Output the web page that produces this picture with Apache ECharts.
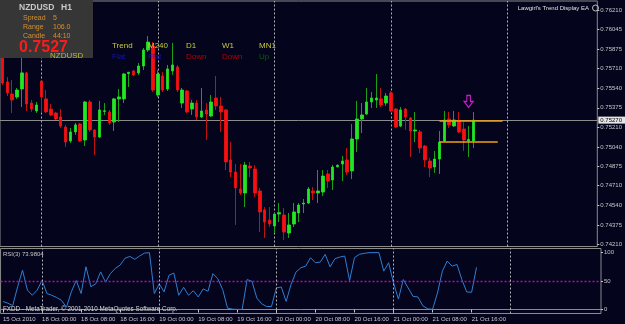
<!DOCTYPE html>
<html><head><meta charset="utf-8">
<script src="https://cdn.jsdelivr.net/npm/echarts@6/dist/echarts.min.js"></script>
<style>html,body{margin:0;padding:0;background:#04041c;}#c{width:625px;height:324px;}</style>
</head><body><div id="c"></div>
<script>
// ---- data (NZDUSD H1) ----
const opens  = [0.75801,0.75596,0.75493,0.75468,0.75536,0.75673,0.75416,0.75348,0.75604,0.75451,
0.75365,0.75331,0.75297,0.75211,0.75092,0.75169,0.75237,0.75100,0.75425,0.75186,
0.75126,0.75344,0.75340,0.75254,0.75451,0.75451,0.75668,0.75690,0.75673,0.75732,
0.75869,0.75903,0.75485,0.75647,0.75536,0.75690,0.75724,0.75416,0.75519,0.75365,
0.75416,0.75297,0.75357,0.75305,0.75459,0.75391,0.75357,0.74930,0.74827,0.74682,
0.74648,0.74878,0.74853,0.74665,0.74503,0.74417,0.74366,0.74468,0.74460,0.74306,
0.74383,0.74477,0.74554,0.74562,0.74665,0.74648,0.74656,0.74810,0.74759,0.74872,
0.74895,0.74930,0.74836,0.75109,0.75280,0.75322,0.75425,0.75442,0.75451,0.75416,
0.75502,0.75365,0.75220,0.75365,0.75288,0.75177,0.75169,0.75049,0.74921,0.74870,
0.74938,0.75092,0.75280,0.75220,0.75263,0.75194,0.75092,0.75092];
const highs  = [0.75826,0.75638,0.75613,0.75545,0.75801,0.75681,0.75442,0.75425,0.75613,0.75527,
0.75408,0.75340,0.75365,0.75229,0.75203,0.75246,0.75246,0.75434,0.75442,0.75194,
0.75434,0.75416,0.75357,0.75459,0.75536,0.75673,0.75681,0.75698,0.75758,0.75886,
0.75989,0.75937,0.75698,0.75681,0.75741,0.75929,0.75741,0.75545,0.75527,0.75442,
0.75442,0.75545,0.75416,0.75485,0.75647,0.75468,0.75365,0.75083,0.74895,0.74895,
0.74913,0.74913,0.74887,0.74691,0.74528,0.74528,0.74477,0.74562,0.74520,0.74477,
0.74562,0.74562,0.74597,0.74699,0.74699,0.74844,0.74844,0.74844,0.74887,0.74891,
0.74964,0.75032,0.75237,0.75434,0.75416,0.75545,0.75510,0.75664,0.75545,0.75502,
0.75519,0.75374,0.75382,0.75374,0.75297,0.75340,0.75186,0.75058,0.74947,0.75007,
0.75177,0.75348,0.75340,0.75348,0.75340,0.75254,0.75220,0.75340];
const lows   = [0.75570,0.75476,0.75331,0.75451,0.75382,0.75348,0.75340,0.75331,0.75340,0.75331,
0.75305,0.75271,0.75203,0.75041,0.75075,0.75143,0.75083,0.75049,0.75169,0.74972,
0.75118,0.75314,0.75229,0.75177,0.75254,0.75416,0.75553,0.75647,0.75656,0.75698,
0.75852,0.75510,0.75468,0.75510,0.75519,0.75656,0.75510,0.75374,0.75331,0.75314,
0.75271,0.75288,0.75100,0.75297,0.75357,0.75169,0.74844,0.74784,0.74375,0.74631,
0.74528,0.74784,0.74614,0.74315,0.74264,0.74357,0.74306,0.74400,0.74246,0.74264,
0.74357,0.74400,0.74477,0.74554,0.74588,0.74562,0.74622,0.74691,0.74673,0.74866,
0.74750,0.74802,0.74767,0.74998,0.75160,0.75314,0.75374,0.75374,0.75382,0.75391,
0.75340,0.75203,0.75211,0.75186,0.74955,0.75083,0.74989,0.74870,0.74784,0.74819,
0.74810,0.75083,0.75203,0.75211,0.75160,0.75007,0.74955,0.75032];
const closes = [0.75587,0.75502,0.75442,0.75527,0.75673,0.75408,0.75365,0.75399,0.75468,0.75340,
0.75314,0.75280,0.75220,0.75083,0.75169,0.75229,0.75092,0.75425,0.75186,0.75126,
0.75357,0.75350,0.75246,0.75451,0.75468,0.75664,0.75679,0.75656,0.75732,0.75869,
0.75937,0.75527,0.75664,0.75527,0.75707,0.75741,0.75527,0.75527,0.75340,0.75416,
0.75297,0.75348,0.75322,0.75425,0.75391,0.75340,0.74913,0.74827,0.74691,0.74648,
0.74887,0.74861,0.74648,0.74486,0.74400,0.74383,0.74468,0.74480,0.74315,0.74375,
0.74486,0.74545,0.74562,0.74682,0.74648,0.74665,0.74793,0.74750,0.74870,0.74885,
0.74921,0.74827,0.75109,0.75280,0.75314,0.75425,0.75459,0.75459,0.75399,0.75476,
0.75348,0.75211,0.75357,0.75297,0.75177,0.75186,0.75032,0.74930,0.74861,0.74938,
0.75083,0.75271,0.75229,0.75271,0.75169,0.75100,0.75105,0.75270];
const rsiValues = [14,11,7,40,69,34,25,34,51,28,
25,21,16,4,31,51,28,75,40,45,
66,48,63,72,78,90,93,88,94,99,
99.6,28,45,31,60,64,25,39,25,33,
22,36,32,63,54,35,2.4,0.6,0.2,0.2,
52.5,49.6,20,10,5.3,5.3,37.8,39.5,14.2,43.7,
65.5,73.2,76.1,90.9,82,83.2,96.8,74.9,89.1,92,
93.8,50.7,90.9,96.8,98.5,99.7,99.8,99.8,67.3,82,
46.6,18.3,52.5,37.8,23,22,6.5,1.2,0.3,28.9,
67.3,85,76.1,79,52.5,30.7,30.3,73.98];
const timeLabels = ['15 Oct 2010','18 Oct 00:00','18 Oct 08:00','18 Oct 16:00','19 Oct 00:00','19 Oct 08:00',
  '19 Oct 16:00','20 Oct 00:00','20 Oct 08:00','20 Oct 16:00','21 Oct 00:00','21 Oct 08:00','21 Oct 16:00'];
const labelEvery = 8;
const priceTicks = [0.76210,0.76045,0.75875,0.75710,0.75540,0.75375,0.75210,0.75040,0.74875,0.74710,0.74540,0.74375,0.74210];
const rsiTicks = [0,50,100];
const daySeparators = [8,32,56,80,104];
const bidPrice = 0.75270;
const rangeHigh = 0.75262, rangeLow = 0.75083;
const rangeFrom = 90, rangeHighTo = 103, rangeLowTo = 102;
const arrowBar = 96, arrowPrice = 0.75429;
const rsiLevel = 50;
const slotCount = 123;

// ---- chart ----
const cats = Array.from({length: slotCount}, (_, i) => String(i));
const BG = '#04041c', FRAME = '#8a8a8a', TXT = '#c8c8c8';
const FONT = '"Liberation Sans", Arial, sans-serif';
const wickData = opens.map((o, i) => [o, closes[i], lows[i], highs[i]]);
const bodyData = opens.map((o, i) => [o, closes[i], Math.min(o, closes[i]), Math.max(o, closes[i])]);
const sepLines = daySeparators.map(i => ({xAxis: cats[i]}));

const chart = echarts.init(document.getElementById('c'), null, {renderer: 'canvas', width: 625, height: 324});
const txt = (text, x, y, fill, font, align) => ({type: 'text', x, y, z: 100,
  style: {text, fill, font, textAlign: align || 'left', verticalAlign: 'middle', textVerticalAlign: 'middle'}});

chart.setOption({
  backgroundColor: BG,
  animation: false,
  grid: [
    {left: 0, top: 1, width: 601, height: 245.5, show: true, borderColor: FRAME, borderWidth: 1, backgroundColor: BG},
    {left: 0, top: 248.5, width: 601, height: 65, show: true, borderColor: FRAME, borderWidth: 1, backgroundColor: BG}
  ],
  xAxis: [
    {type: 'category', gridIndex: 0, data: cats, boundaryGap: true,
     axisLine: {show: false}, axisTick: {show: false}, axisLabel: {show: false}, splitLine: {show: false}},
    {type: 'category', gridIndex: 1, data: cats, boundaryGap: true,
     axisLine: {show: true, lineStyle: {color: FRAME}},
     axisTick: {show: true, alignWithLabel: true, length: 3, lineStyle: {color: TXT},
       interval: (i) => i % labelEvery === 0 && i / labelEvery < timeLabels.length},
     axisLabel: {show: true, color: TXT, fontSize: 6, fontFamily: FONT, margin: 3, align: 'left',
       interval: (i) => i % labelEvery === 0 && i / labelEvery < timeLabels.length,
       formatter: (v, i) => timeLabels[i / labelEvery] || ''},
     splitLine: {show: false}}
  ],
  yAxis: [
    {type: 'value', gridIndex: 0, position: 'right', min: 0.74191, max: 0.76287, scale: true,
     axisLine: {show: false}, splitLine: {show: false},
     axisTick: {show: true, length: 2, customValues: priceTicks, lineStyle: {color: TXT}},
     axisLabel: {show: true, customValues: priceTicks, color: TXT, fontSize: 6, fontFamily: FONT, margin: 3,
       formatter: (v) => v.toFixed(5)}},
    {type: 'value', gridIndex: 1, position: 'right', min: -7, max: 107,
     axisLine: {show: false}, splitLine: {show: false},
     axisTick: {show: true, length: 2, customValues: rsiTicks, lineStyle: {color: TXT}},
     axisLabel: {show: true, customValues: rsiTicks, color: TXT, fontSize: 6, fontFamily: FONT, margin: 3,
       formatter: (v) => String(v)}}
  ],
  series: [
    {type: 'line', name: 'bid', xAxisIndex: 0, yAxisIndex: 0, data: [], symbol: 'none', silent: true, z: 1,
     markLine: {silent: true, symbol: ['none', 'none'], precision: 5, z: 1,
       data: [{yAxis: bidPrice, lineStyle: {color: '#8c8c8c', type: 'solid', width: 1},
          label: {show: true, position: 'end', formatter: bidPrice.toFixed(5), color: '#000', backgroundColor: '#e6e6e6',
            fontSize: 6, fontFamily: FONT, padding: [1, 3, 0, 2], distance: 1}}]}},
    {type: 'candlestick', name: 'wick', xAxisIndex: 0, yAxisIndex: 0, data: wickData, barWidth: 1,
     itemStyle: {color: '#18a018', color0: '#c01010', borderColor: '#18a018', borderColor0: '#c01010', borderWidth: 1},
     markLine: {silent: true, symbol: ['none', 'none'], label: {show: false}, z: 1,
       lineStyle: {color: '#b0b0b0', type: [2, 2], width: 1}, data: sepLines}},
    {type: 'candlestick', name: 'body', xAxisIndex: 0, yAxisIndex: 0, data: bodyData, barWidth: 3,
     itemStyle: {color: '#22e622', color0: '#f81010', borderColor: '#22e622', borderColor0: '#f81010', borderWidth: 0.8},
     markLine: {silent: true, symbol: ['none', 'none'], label: {show: false}, precision: 5, z: 8,
       data: [
         [{coord: [cats[rangeFrom], rangeHigh], lineStyle: {color: '#f0a010', type: 'solid', width: 1.5}},
          {coord: [cats[rangeHighTo], rangeHigh]}],
         [{coord: [cats[rangeFrom], rangeLow], lineStyle: {color: '#f0a010', type: 'solid', width: 1.5}},
          {coord: [cats[rangeLowTo], rangeLow]}]
       ]},
     markPoint: {silent: true, data: [{coord: [cats[arrowBar], arrowPrice],
       symbol: 'path://M3,0 L7,0 L7,6 L10,6 L5,12 L0,6 L3,6 Z', symbolSize: [9, 12],
       itemStyle: {color: 'rgba(0,0,0,0)', borderColor: '#c81ec8', borderWidth: 1.2}, label: {show: false}}]}},
    {type: 'line', name: 'RSI(3)', xAxisIndex: 1, yAxisIndex: 1, data: rsiValues, symbol: 'none',
     lineStyle: {color: '#2d7fd2', width: 1},
     markLine: {silent: true, symbol: ['none', 'none'], label: {show: false},
       data: [{yAxis: rsiLevel, lineStyle: {color: '#b010b0', type: [2, 2], width: 1.4}}]
         .concat(daySeparators.map(i => ({xAxis: cats[i], lineStyle: {color: '#b0b0b0', type: [2, 2], width: 1}})))}}
  ],
  graphic: [
    {type: 'rect', z: 99, shape: {x: 0, y: 0, width: 93, height: 58}, style: {fill: '#363636'}},
    txt('NZDUSD', 19, 8, '#c8c8c8', 'bold 8.5px ' + FONT),
    txt('H1', 61, 8, '#c8c8c8', 'bold 8.5px ' + FONT),
    txt('Spread', 23, 18, '#d8902c', '7px ' + FONT),
    txt('5', 53, 18, '#d8902c', '7px ' + FONT),
    txt('Range', 23, 27, '#d8902c', '7px ' + FONT),
    txt('106.0', 53, 27, '#d8902c', '7px ' + FONT),
    txt('Candle', 23, 36, '#d8902c', '7px ' + FONT),
    txt('44:10', 53, 36, '#d8902c', '7px ' + FONT),
    txt('0.7527', 19, 47.5, '#ff1a1a', 'bold 16px ' + FONT),
    txt('NZDUSD', 50, 55.5, '#b8b83c', '8px ' + FONT),
    txt('Trend', 112, 46, '#c8c83c', '8px ' + FONT),
    txt('M240', 148, 46, '#c8c83c', '8px ' + FONT),
    txt('D1', 186, 46, '#c8c83c', '8px ' + FONT),
    txt('W1', 222, 46, '#c8c83c', '8px ' + FONT),
    txt('MN1', 259, 46, '#c8c83c', '8px ' + FONT),
    txt('Flat', 112, 56.5, '#1414b8', '8px ' + FONT),
    txt('Flat', 148, 56.5, '#1414b8', '8px ' + FONT),
    txt('Down', 186, 56.5, '#b80000', '8px ' + FONT),
    txt('Down', 222, 56.5, '#b80000', '8px ' + FONT),
    txt('Up', 259, 56.5, '#006400', '8px ' + FONT),
    txt("Lawgirl's Trend Display EA", 589, 8, '#e0e0e0', '6px ' + FONT, 'right'),
    {type: 'circle', z: 100, shape: {cx: 595.5, cy: 8, r: 3}, style: {fill: 'none', stroke: '#c0c0c0', lineWidth: 1}},
    txt('RSI(3) 73.9804', 3, 254.5, '#c8c8c8', '6px ' + FONT),
    txt('FXDD - MetaTrader, \u00a9 2001-2010 MetaQuotes Software Corp.', 3, 309, '#d8d8d8', '6.3px ' + FONT)
  ]
});
</script></body></html>
